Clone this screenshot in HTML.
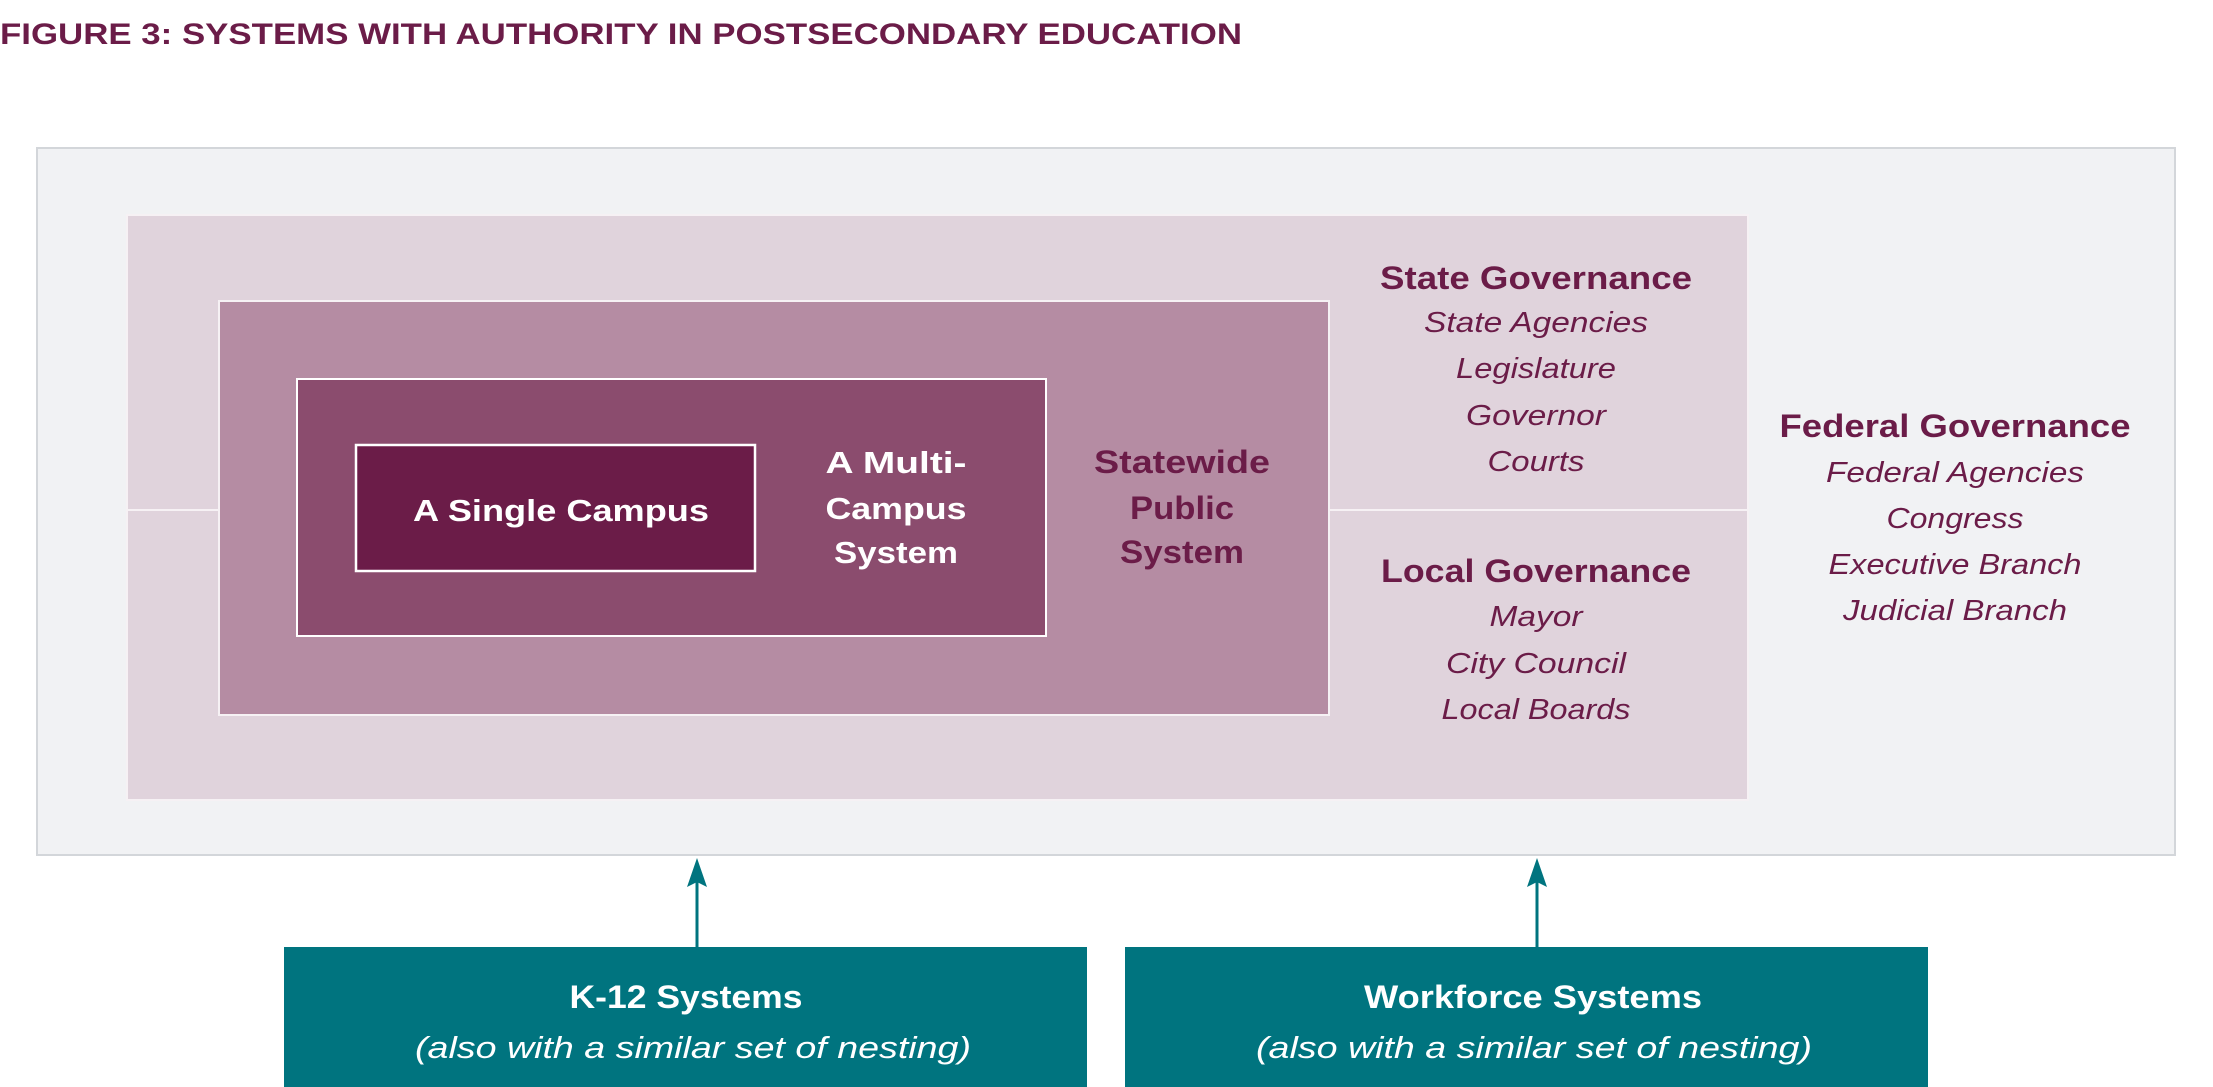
<!DOCTYPE html>
<html><head><meta charset="utf-8"><style>
html,body{margin:0;padding:0;background:#fff;}
svg{display:block;}
text{font-family:"Liberation Sans",sans-serif;}
.h{font-weight:bold;fill:#6b1c48;font-size:32px;}
.i{font-style:italic;fill:#6b1c48;font-size:29px;}
.w{font-weight:bold;fill:#fff;font-size:31px;}
</style></head><body>
<svg width="2213" height="1087" viewBox="0 0 2213 1087" xmlns="http://www.w3.org/2000/svg">
<text x="0" y="44" font-size="30" font-weight="bold" fill="#6b1c48" textLength="1242" lengthAdjust="spacingAndGlyphs">FIGURE 3: SYSTEMS WITH AUTHORITY IN POSTSECONDARY EDUCATION</text>
<rect x="37" y="148" width="2138" height="707" fill="#f1f2f4" stroke="#d3d6da" stroke-width="2"/>
<rect x="127" y="215" width="1621" height="585" fill="#e0d3dc" stroke="#f6f1f4" stroke-width="2"/>
<line x1="127" y1="510" x2="1748" y2="510" stroke="#f6f1f4" stroke-width="2"/>
<rect x="219" y="301" width="1110" height="414" fill="#b58ca3" stroke="#f6f1f4" stroke-width="2"/>
<rect x="297" y="379" width="749" height="257" fill="#8b4c6e" stroke="#fff" stroke-width="2"/>
<rect x="356" y="445" width="399" height="126" fill="#6b1c48" stroke="#fff" stroke-width="2.5"/>
<text class="w" x="413" y="521" textLength="296" lengthAdjust="spacingAndGlyphs">A Single Campus</text>
<g class="w" text-anchor="middle">
<text x="896" y="473" textLength="141" lengthAdjust="spacingAndGlyphs">A Multi-</text>
<text x="896" y="519" textLength="141" lengthAdjust="spacingAndGlyphs">Campus</text>
<text x="896" y="563" textLength="124" lengthAdjust="spacingAndGlyphs">System</text>
</g>
<g class="h" text-anchor="middle">
<text x="1182" y="473" textLength="176" lengthAdjust="spacingAndGlyphs">Statewide</text>
<text x="1182" y="519" textLength="104" lengthAdjust="spacingAndGlyphs">Public</text>
<text x="1182" y="563" textLength="124" lengthAdjust="spacingAndGlyphs">System</text>
<text x="1536" y="289" textLength="312" lengthAdjust="spacingAndGlyphs">State Governance</text>
<text x="1536" y="582" textLength="310" lengthAdjust="spacingAndGlyphs">Local Governance</text>
<text x="1955" y="437" textLength="351" lengthAdjust="spacingAndGlyphs">Federal Governance</text>
</g>
<g class="i" text-anchor="middle">
<text x="1536" y="332" textLength="224" lengthAdjust="spacingAndGlyphs">State Agencies</text>
<text x="1536" y="378" textLength="160" lengthAdjust="spacingAndGlyphs">Legislature</text>
<text x="1536" y="425" textLength="140" lengthAdjust="spacingAndGlyphs">Governor</text>
<text x="1536" y="471" textLength="97" lengthAdjust="spacingAndGlyphs">Courts</text>
<text x="1536" y="626" textLength="93" lengthAdjust="spacingAndGlyphs">Mayor</text>
<text x="1536" y="673" textLength="180" lengthAdjust="spacingAndGlyphs">City Council</text>
<text x="1536" y="719" textLength="189" lengthAdjust="spacingAndGlyphs">Local Boards</text>
<text x="1955" y="482" textLength="258" lengthAdjust="spacingAndGlyphs">Federal Agencies</text>
<text x="1955" y="528" textLength="137" lengthAdjust="spacingAndGlyphs">Congress</text>
<text x="1955" y="574" textLength="253" lengthAdjust="spacingAndGlyphs">Executive Branch</text>
<text x="1955" y="620" textLength="224" lengthAdjust="spacingAndGlyphs">Judicial Branch</text>
</g>
<g stroke="#00747f" stroke-width="3" fill="#00747f">
<line x1="697" y1="948" x2="697" y2="880"/>
<polygon points="697,858 687,887 697,882 707,887" stroke="none"/>
<line x1="1537" y1="948" x2="1537" y2="880"/>
<polygon points="1537,858 1527,887 1537,882 1547,887" stroke="none"/>
</g>
<rect x="284" y="947" width="803" height="140" fill="#00747f"/>
<rect x="1125" y="947" width="803" height="140" fill="#00747f"/>
<g text-anchor="middle" fill="#fff">
<text x="686" y="1008" font-size="32" font-weight="bold" textLength="233" lengthAdjust="spacingAndGlyphs">K-12 Systems</text>
<text x="693" y="1058" font-size="31" font-style="italic" textLength="556" lengthAdjust="spacingAndGlyphs">(also with a similar set of nesting)</text>
<text x="1533" y="1008" font-size="32" font-weight="bold" textLength="338" lengthAdjust="spacingAndGlyphs">Workforce Systems</text>
<text x="1534" y="1058" font-size="31" font-style="italic" textLength="556" lengthAdjust="spacingAndGlyphs">(also with a similar set of nesting)</text>
</g>
</svg>
</body></html>
